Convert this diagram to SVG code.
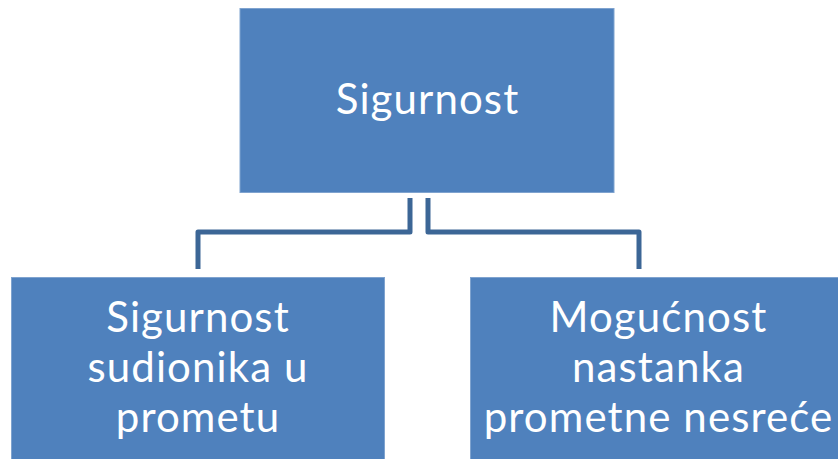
<svg xmlns="http://www.w3.org/2000/svg" width="838" height="459" viewBox="0 0 838 459">
<style>
.box{fill:#4F81BD;stroke:#7FA3CF;stroke-width:1}
.t{font-family:Lato,"Open Sans","Liberation Sans",sans-serif;font-size:42px;letter-spacing:1.1px;fill:#FFFFFF;text-anchor:middle}
.c{fill:none;stroke:#3C6696;stroke-width:5;stroke-linejoin:round}
</style>
<rect width="838" height="459" fill="#FFFFFF"/>
<g id="connectors">
<path class="c" d="M410,198 V232 H198 V269"/>
<path class="c" d="M428,198 V232 H639 V269"/>
</g>
<g id="node-sigurnost">
<rect class="box" x="240" y="8.5" width="374" height="184"/>
<text class="t" x="427.5" y="114">Sigurnost</text>
</g>
<g id="node-sudionici">
<rect class="box" x="11.5" y="277.5" width="373" height="190"/>
<text class="t" x="198" y="332">Sigurnost</text>
<text class="t" x="198" y="382">sudionika u</text>
<text class="t" x="198" y="432">prometu</text>
</g>
<g id="node-nesreca">
<rect class="box" x="470.5" y="277.5" width="375" height="190"/>
<text class="t" x="658.5" y="332">Mogućnost</text>
<text class="t" x="658.5" y="382">nastanka</text>
<text class="t" x="658.5" y="432">prometne nesreće</text>
</g>
</svg>
